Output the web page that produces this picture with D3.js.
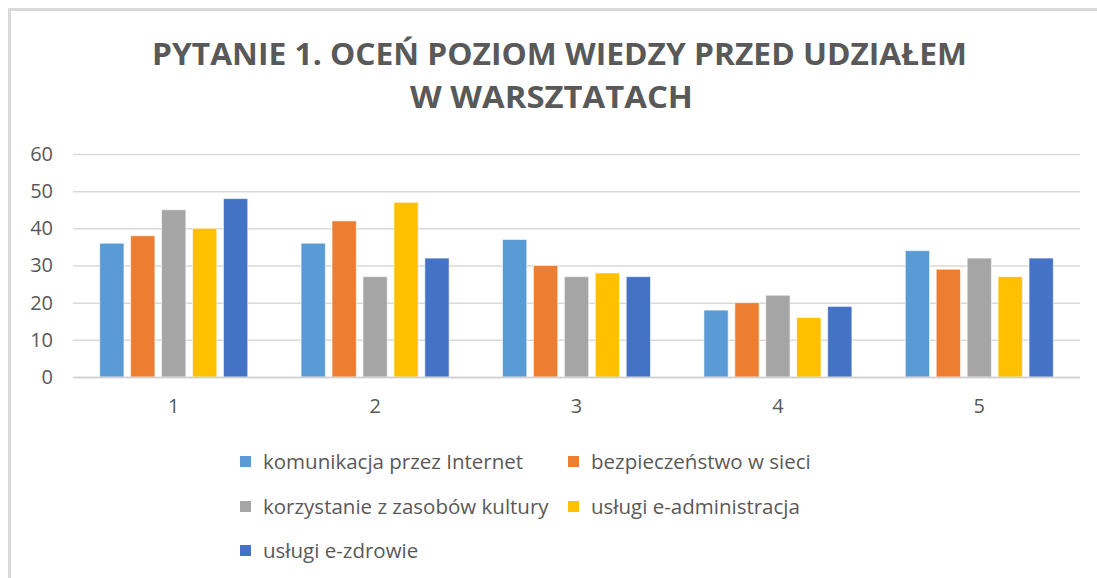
<!DOCTYPE html>
<html>
<head>
<meta charset="utf-8">
<style>
  html, body { margin: 0; padding: 0; background: #fff; }
  svg { display: block; }
  text { font-family: "Open Sans", "DejaVu Sans", sans-serif; fill: #595959; }
  .title { font-weight: bold; }
</style>
<script src="https://cdn.jsdelivr.net/npm/d3@7/dist/d3.min.js"></script>
</head>
<body>
<div id="chart"></div>
<script>
/* Clustered column chart: five answer levels, one column per workshop topic. */
(function () {
  "use strict";

  var categories = ["1", "2", "3", "4", "5"];
  var seriesNames = [
    "komunikacja przez Internet",
    "bezpieczeństwo w sieci",
    "korzystanie z zasobów kultury",
    "usługi e-administracja",
    "usługi e-zdrowie"
  ];
  var komunikacja = [36, 36, 37, 18, 34];
  var bezpieczenstwo = [38, 42, 30, 20, 29];
  var kultura = [45, 27, 27, 22, 32];
  var administracja = [40, 47, 28, 16, 27];
  var zdrowie = [48, 32, 27, 19, 32];
  var yTicks = [0, 10, 20, 30, 40, 50, 60];
  var titleLines = ["PYTANIE 1. OCEŃ POZIOM WIEDZY PRZED UDZIAŁEM", "W WARSZTATACH"];
  var colors = ["#5B9BD5", "#ED7D31", "#A5A5A5", "#FFC000", "#4472C4"];

  var values = [komunikacja, bezpieczenstwo, kultura, administracja, zdrowie];

  var width = 1097;
  var height = 578;
  var plot = { left: 73, right: 1080, top: 154, bottom: 377 };

  var svg = d3
    .select("#chart")
    .append("svg")
    .attr("width", width)
    .attr("height", height);

  // chart area frame (only the top and left edges fall inside the crop)
  svg
    .append("rect")
    .attr("x", 9.5)
    .attr("y", 9.5)
    .attr("width", width + 20)
    .attr("height", height + 20)
    .attr("fill", "#fff")
    .attr("stroke", "#d9d9d9")
    .attr("stroke-width", 3);

  // title, stretched to the width the original occupies
  var titleSpecs = [
    { cx: 559.5, y: 65, len: 815 },
    { cx: 551.5, y: 108, len: 283 }
  ];
  titleLines.forEach(function (line, i) {
    svg
      .append("text")
      .attr("class", "title")
      .attr("x", titleSpecs[i].cx)
      .attr("y", titleSpecs[i].y)
      .attr("text-anchor", "middle")
      .attr("font-size", 30)
      .attr("textLength", titleSpecs[i].len)
      .attr("lengthAdjust", "spacingAndGlyphs")
      .text(line);
  });

  var x0 = d3
    .scaleBand()
    .domain(categories)
    .range([plot.left, plot.right])
    .paddingInner(0.265)
    .paddingOuter(0.1325);

  var x1 = d3
    .scaleBand()
    .domain(d3.range(seriesNames.length))
    .range([0, x0.bandwidth()])
    .paddingInner(0.215);

  var y = d3
    .scaleLinear()
    .domain([0, 60])
    .range([plot.bottom, plot.top]);

  // gridlines
  var yAxis = d3
    .axisLeft(y)
    .tickValues(yTicks)
    .tickSize(-(plot.right - plot.left))
    .tickPadding(20);

  var gy = svg
    .append("g")
    .attr("transform", "translate(" + plot.left + ",0)")
    .call(yAxis);
  gy.select(".domain").remove();
  gy.selectAll(".tick line").attr("stroke", "#d9d9d9").attr("stroke-width", 1.5);
  gy.selectAll(".tick text")
    .attr("font-size", 20)
    .attr("font-family", null)
    .attr("fill", "#595959");

  // bars
  var groups = svg
    .append("g")
    .selectAll("g")
    .data(categories)
    .join("g")
    .attr("transform", function (d) {
      return "translate(" + x0(d) + ",0)";
    });

  groups
    .selectAll("rect")
    .data(function (d, ci) {
      return values.map(function (s, si) {
        return { series: si, value: s[ci] };
      });
    })
    .join("rect")
    .attr("x", function (d) {
      return x1(d.series);
    })
    .attr("y", function (d) {
      return y(d.value);
    })
    .attr("width", x1.bandwidth())
    .attr("height", function (d) {
      return y(0) - y(d.value);
    })
    .attr("fill", function (d) {
      return colors[d.series];
    })
    .attr("stroke", "#fff")
    .attr("stroke-opacity", 0.6)
    .attr("stroke-width", 1);

  // category axis
  var xAxis = d3.axisBottom(x0).tickSize(0).tickPadding(22);
  var gx = svg
    .append("g")
    .attr("transform", "translate(0," + plot.bottom + ")")
    .call(xAxis);
  gx.select(".domain")
    .attr("d", "M" + plot.left + ",0.5H" + plot.right)
    .attr("stroke", "#d0d0d0")
    .attr("stroke-width", 1.5);
  gx.selectAll(".tick text")
    .attr("font-size", 20)
    .attr("font-family", null)
    .attr("fill", "#595959");

  // legend, two columns wrapped onto three rows
  var legendCols = [240, 568];
  var legendRows = [462, 507, 551];
  var legend = svg
    .append("g")
    .selectAll("g")
    .data(seriesNames)
    .join("g")
    .attr("transform", function (d, i) {
      return "translate(" + legendCols[i % 2] + "," + legendRows[Math.floor(i / 2)] + ")";
    });

  legend
    .append("rect")
    .attr("x", 0)
    .attr("y", -6)
    .attr("width", 11)
    .attr("height", 11)
    .attr("fill", function (d, i) {
      return colors[i];
    });

  legend
    .append("text")
    .attr("x", 23)
    .attr("dy", "0.35em")
    .attr("font-size", 20.5)
    .text(function (d) {
      return d;
    });
})();
</script>
</body>
</html>
